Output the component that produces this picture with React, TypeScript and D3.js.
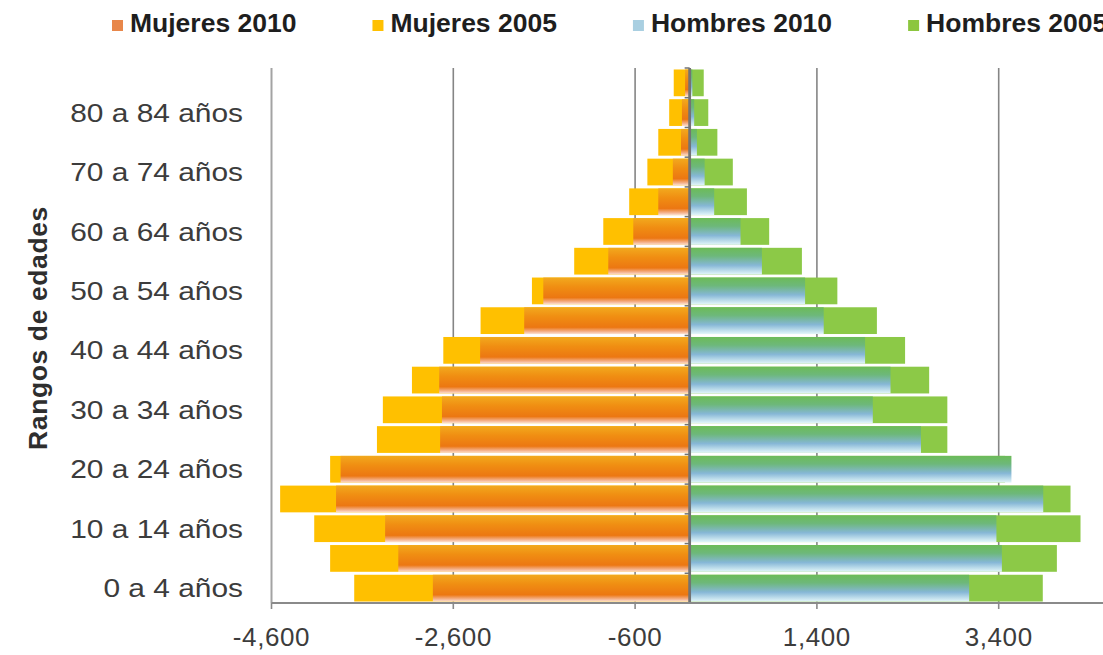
import React, { useMemo } from "react";
import * as d3 from "d3";

// Age groups, youngest first
const categories = [
  "0 a 4 años", "5 a 9 años", "10 a 14 años", "15 a 19 años", "20 a 24 años",
  "25 a 29 años", "30 a 34 años", "35 a 39 años", "40 a 44 años", "45 a 49 años",
  "50 a 54 años", "55 a 59 años", "60 a 64 años", "65 a 69 años", "70 a 74 años",
  "75 a 79 años", "80 a 84 años", "85 y más años",
];

// Women are plotted as negative values (left side of the pyramid)
const mujeres2005 = [-3690, -3955, -4130, -4505, -3955, -3440, -3375, -3055, -2710, -2300, -1735, -1270, -950, -665, -465, -345, -225, -175];
const mujeres2010 = [-2825, -3205, -3350, -3890, -3840, -2745, -2725, -2755, -2305, -1820, -1610, -895, -620, -345, -185, -95, -85, -50];
const hombres2005 = [3885, 4040, 4300, 4190, 3470, 2835, 2835, 2635, 2370, 2060, 1625, 1235, 875, 630, 475, 305, 205, 155];
const hombres2010 = [3075, 3435, 3375, 3890, 3540, 2545, 2015, 2210, 1930, 1475, 1270, 795, 560, 270, 165, 80, 50, 30];

const xTicks = [-4600, -2600, -600, 1400, 3400];

const legendItems = [
  { label: "Mujeres 2010", color: "#E8874A" },
  { label: "Mujeres 2005", color: "#FFC000" },
  { label: "Hombres 2010", color: "#A9CFE1" },
  { label: "Hombres 2005", color: "#8CC63F" },
];

const W = 1103;
const H = 655;
const FONT = "'Liberation Sans', Arial, sans-serif";

const fmt = d3.formatLocale({
  decimal: ".",
  thousands: ",",
  grouping: [3],
  currency: ["$", ""],
  minus: "-",
}).format(",");

export default function App() {
  const plotTop = 68;
  const plotBottom = 603;

  const x = d3.scaleLinear().domain([-4600, 5400]).range([271.5, 1180.5]);
  const y = d3
    .scaleBand<string>()
    .domain(categories)
    .range([plotBottom, plotTop])
    .paddingInner(0.1)
    .paddingOuter(0.05);
  const bw = y.bandwidth();
  const x0 = x(0);

  // Legend layout from measured label widths
  const legend = useMemo(() => {
    const ctx = document.createElement("canvas").getContext("2d");
    const font = `bold 26.5px ${FONT}`;
    let cx = 112;
    return legendItems.map((it) => {
      let w = it.label.length * 14;
      if (ctx) {
        ctx.font = font;
        w = ctx.measureText(it.label).width;
      }
      const pos = { ...it, sx: cx, tx: cx + 18 };
      cx += 18 + w + 76;
      return pos;
    });
  }, []);

  const barRect = (v: number) => ({
    x: Math.min(x(v), x0),
    width: Math.abs(x(v) - x0),
  });

  const step = y.step();
  const catBoundaries = d3.range(categories.length + 1).map((i) => plotBottom - i * step);

  return (
    <div style={{ position: "absolute", left: 0, top: 0 }}>
      <svg width={W} height={H} style={{ display: "block", background: "#fff" }}>
        <defs>
          <linearGradient id="gMuj10" x1="0" y1="0" x2="0" y2="1">
            <stop offset="0%" stopColor="#F2A91E" />
            <stop offset="35%" stopColor="#F08E12" />
            <stop offset="75%" stopColor="#EC7712" />
            <stop offset="90%" stopColor="#F4AE86" />
            <stop offset="100%" stopColor="#FCE0D2" />
          </linearGradient>
          <linearGradient id="gHom10" x1="0" y1="0" x2="0" y2="1">
            <stop offset="0%" stopColor="#6CBB58" />
            <stop offset="30%" stopColor="#6DB87A" />
            <stop offset="65%" stopColor="#86B7D6" />
            <stop offset="100%" stopColor="#E2F6F9" />
          </linearGradient>
        </defs>

        {/* Legend */}
        {legend.map((it) => (
          <g key={it.label}>
            <rect x={it.sx} y={20} width={11} height={11} fill={it.color} />
            <text
              x={it.tx}
              y={32}
              fontFamily={FONT}
              fontWeight="bold"
              fontSize={26.5}
              fill="#1e1e1e"
            >
              {it.label}
            </text>
          </g>
        ))}

        {/* Vertical gridlines */}
        {xTicks.map((t) => (
          <line
            key={`g${t}`}
            x1={x(t)}
            x2={x(t)}
            y1={plotTop}
            y2={plotBottom}
            stroke={t === xTicks[0] ? "#a3a3a3" : "#858585"}
            strokeWidth={t === xTicks[0] ? 2 : 1.6}
          />
        ))}

        {/* 2005 bars (behind) */}
        {categories.map((c, i) => (
          <g key={`b05${c}`}>
            <rect y={y(c)} height={bw} {...barRect(mujeres2005[i])} fill="#FFC000" />
            <rect y={y(c)} height={bw} {...barRect(hombres2005[i])} fill="#8CC947" />
          </g>
        ))}

        {/* 2010 bars (front) */}
        {categories.map((c, i) => (
          <g key={`b10${c}`}>
            <rect y={y(c)} height={bw} {...barRect(mujeres2010[i])} fill="url(#gMuj10)" />
            <rect y={y(c)} height={bw} {...barRect(hombres2010[i])} fill="url(#gHom10)" />
          </g>
        ))}

        {/* Category axis at zero */}
        <line x1={x0} x2={x0} y1={plotTop} y2={plotBottom} stroke="#737373" strokeWidth={2.8} />
        {catBoundaries.map((yy, i) => (
          <line key={`ct${i}`} x1={x0 - 5} x2={x0} y1={yy} y2={yy} stroke="#737373" strokeWidth={1.5} />
        ))}

        {/* Value axis */}
        <line x1={x(-4600)} x2={W} y1={plotBottom} y2={plotBottom} stroke="#8a8a8a" strokeWidth={2} />
        {xTicks.map((t) => (
          <g key={`t${t}`}>
            <line x1={x(t)} x2={x(t)} y1={plotBottom} y2={plotBottom + 6} stroke="#8a8a8a" strokeWidth={1.6} />
            <text
              x={x(t)}
              y={646}
              textAnchor="middle"
              fontFamily={FONT}
              fontSize={26}
              letterSpacing={0.6}
              fill="#3c3c3c"
            >
              {fmt(t)}
            </text>
          </g>
        ))}

        {/* Category labels, every other group */}
        {categories.map((c, i) =>
          i % 2 === 0 ? (
            <text
              key={`l${c}`}
              transform={`translate(243, ${(y(c) ?? 0) + bw / 2}) scale(1.15, 1)`}
              dy="0.35em"
              textAnchor="end"
              fontFamily={FONT}
              fontSize={26}
              fill="#3c3c3c"
            >
              {c}
            </text>
          ) : null
        )}

        {/* Axis title */}
        <text
          transform={`translate(47, 328) rotate(-90)`}
          textAnchor="middle"
          fontFamily={FONT}
          fontWeight="bold"
          fontSize={26.5}
          letterSpacing={0.6}
          fill="#2e2e2e"
        >
          Rangos de edades
        </text>
      </svg>
    </div>
  );
}
